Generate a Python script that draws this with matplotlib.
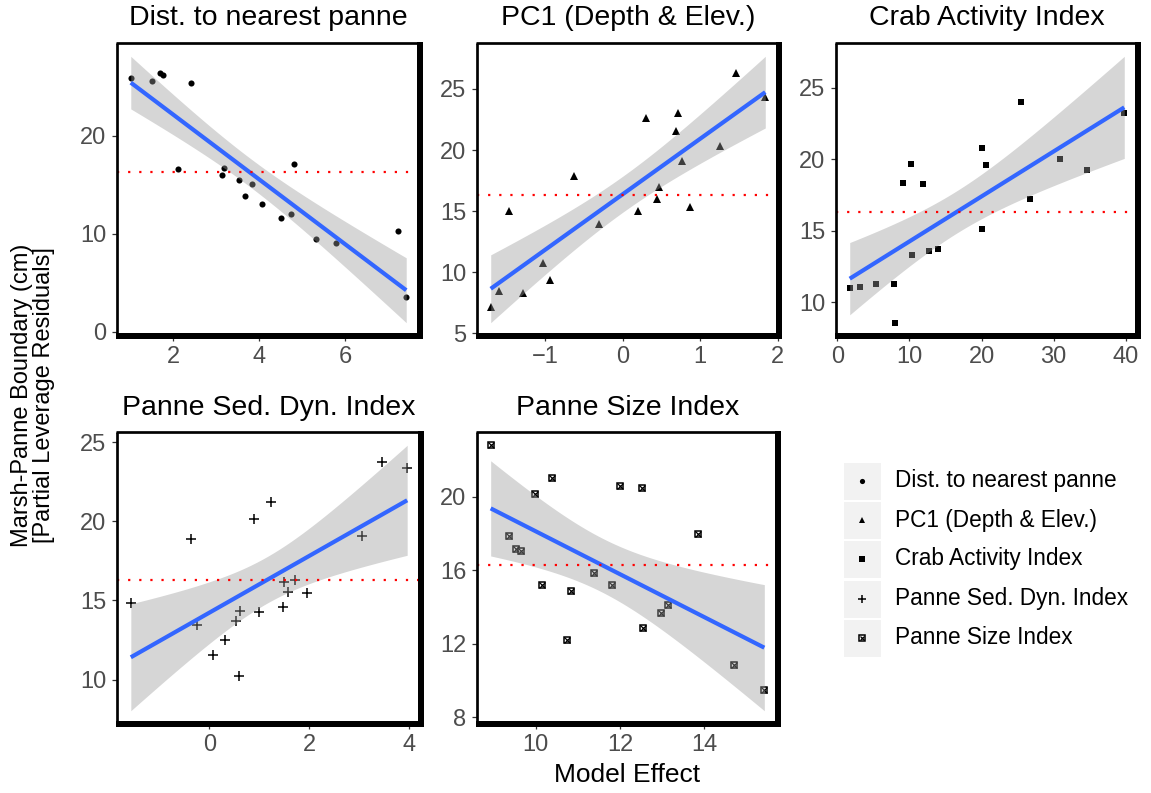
import numpy as np
import matplotlib
matplotlib.use("Agg")
import matplotlib.pyplot as plt
from matplotlib.patches import Rectangle

plt.rcParams['font.family'] = ['Liberation Sans', 'DejaVu Sans']

# partial leverage residuals for each predictor (x = model effect, y = boundary in cm)
dist_x = np.array([1.01, 1.51, 1.68, 1.75, 2.41, 2.12, 3.13, 3.19, 3.53, 3.83,
                   3.66, 4.07, 4.50, 4.75, 4.82, 5.32, 5.78, 7.22, 7.42])
dist_y = np.array([25.93, 25.60, 26.36, 26.23, 25.43, 16.63, 16.02, 16.70, 15.53, 15.05,
                   13.84, 13.00, 11.59, 12.03, 17.14, 9.44, 9.04, 10.29, 3.58])

pc1_x = np.array([-1.70, -1.59, -1.47, -1.28, -1.03, -0.94, -0.62, -0.31, 0.20, 0.30,
                  0.44, 0.47, 0.71, 0.69, 0.77, 0.87, 1.26, 1.46, 1.84])
pc1_y = np.array([7.13, 8.47, 15.00, 8.28, 10.73, 9.34, 17.89, 13.97, 15.03, 22.60,
                  16.03, 16.99, 23.05, 21.56, 19.09, 15.30, 20.31, 26.32, 24.33])

crab_x = np.array([1.71, 3.18, 5.42, 7.85, 8.02, 9.12, 10.18, 10.32, 11.87, 12.69,
                   13.98, 20.01, 20.01, 20.56, 25.54, 26.73, 30.85, 34.69, 39.81])
crab_y = np.array([11.00, 11.11, 11.30, 11.30, 8.59, 18.34, 19.66, 13.34, 18.29, 13.60,
                   13.74, 20.79, 15.10, 19.61, 23.98, 17.22, 20.05, 19.26, 23.25])

sed_x = np.array([-1.58, -0.37, -0.25, 0.07, 0.31, 0.54, 0.62, 0.60, 0.90, 1.00,
                  1.24, 1.47, 1.49, 1.57, 1.71, 1.95, 3.07, 3.46, 3.97])
sed_y = np.array([14.84, 18.88, 13.44, 11.57, 12.49, 13.73, 14.32, 10.23, 20.18, 14.25,
                  21.24, 14.61, 16.16, 15.51, 16.31, 15.45, 19.07, 23.74, 23.36])

size_x = np.array([8.93, 9.37, 9.54, 9.66, 9.99, 10.16, 10.38, 10.75, 10.84, 11.38,
                   11.82, 12.00, 12.53, 12.54, 12.98, 13.14, 13.85, 14.72, 15.43])
size_y = np.array([22.80, 17.84, 17.15, 17.03, 20.15, 15.17, 21.00, 12.17, 14.85, 15.84,
                   15.20, 20.58, 20.49, 12.86, 13.65, 14.09, 17.95, 10.84, 9.49])

titles = ["Dist. to nearest panne", "PC1 (Depth & Elev.)", "Crab Activity Index",
          "Panne Sed. Dyn. Index", "Panne Size Index"]
x_ticks = [[2, 4, 6], [-1, 0, 1, 2], [0, 10, 20, 30, 40], [0, 2, 4], [10, 12, 14]]
y_ticks = [[0, 10, 20], [5, 10, 15, 20, 25], [10, 15, 20, 25], [10, 15, 20, 25], [8, 12, 16, 20]]
mean_boundary = 16.3

T_CRIT = 2.110  # t quantile (0.975, df = 17)

W, H = 1151, 793
fig = plt.figure(figsize=(W / 100, H / 100), dpi=100)


def px_box(left, top, right, bottom):
    return [left / W, 1 - bottom / H, (right - left) / W, (bottom - top) / H]


def lm_band(x, y, n_grid=80):
    slope, icept = np.polyfit(x, y, 1)
    xs = np.linspace(x.min(), x.max(), n_grid)
    fit = icept + slope * xs
    resid = y - (icept + slope * x)
    s = np.sqrt(np.sum(resid ** 2) / (len(x) - 2))
    se = s * np.sqrt(1 / len(x) + (xs - x.mean()) ** 2 / np.sum((x - x.mean()) ** 2))
    return xs, fit, fit - T_CRIT * se, fit + T_CRIT * se


def expand(lo, hi, f=0.05):
    d = hi - lo
    return lo - f * d, hi + f * d


def draw_marker(ax, x, y, kind, scale=1.0):
    if kind == 'circle':
        ax.plot(x, y, 'o', color='black', ms=4.4 * scale, mew=0, zorder=2)
    elif kind == 'triangle':
        ax.plot(x, y, '^', color='black', ms=5.4 * scale, mew=0, zorder=2)
    elif kind == 'square':
        ax.plot(x, y, 's', color='black', ms=4.4 * scale, mew=0, zorder=2)
    elif kind == 'plus':
        ax.plot(x, y, '+', color='black', ms=7.0 * scale, mew=1.1, zorder=2)
    elif kind == 'squarecross':
        ax.plot(x, y, 's', mfc='white', mec='black', ms=4.6 * scale, mew=1.1, zorder=2)
        ax.plot(x, y, 'x', color='black', ms=3.8 * scale, mew=0.9, zorder=2)


panels = [
    (dist_x, dist_y, 'circle', (117, 43, 420, 336)),
    (pc1_x, pc1_y, 'triangle', (477, 43, 779, 336)),
    (crab_x, crab_y, 'square', (836, 43, 1138, 336)),
    (sed_x, sed_y, 'plus', (117, 432, 421, 724)),
    (size_x, size_y, 'squarecross', (477, 432, 778, 724)),
]

for i, (x, y, kind, pbox) in enumerate(panels):
    ax = fig.add_axes(px_box(*pbox))
    xs, fit, lo, hi = lm_band(x, y)

    draw_marker(ax, x, y, kind)
    ax.fill_between(xs, lo, hi, color='#999999', alpha=0.4, lw=0, zorder=3)
    ax.plot(xs, fit, color='#3366FF', lw=3, solid_capstyle='butt', zorder=4)
    ax.axhline(mean_boundary, color='red', lw=1.6, ls=(0, (1, 4)), zorder=5)

    ax.set_xlim(*expand(x.min(), x.max()))
    ax.set_ylim(*expand(min(y.min(), lo.min()), max(y.max(), hi.max())))
    ax.set_xticks(x_ticks[i])
    ax.set_yticks(y_ticks[i])
    ax.tick_params(length=3.5, width=0.9, color='#333333', labelcolor='#4D4D4D',
                   labelsize=17, pad=4)
    for sp in ax.spines.values():
        sp.set_visible(False)

    cx = (pbox[0] + pbox[2]) / 2
    ty = 18 if pbox[1] < 100 else 408
    fig.text(cx / W, 1 - ty / H, titles[i], ha='center', va='center', fontsize=20.5)

# axis titles
fig.text(627 / W, 1 - 775 / H, "Model Effect", ha='center', va='center', fontsize=19)
fig.text(33 / W, 1 - 395 / H, "Marsh-Panne Boundary (cm)\n[Partial Leverage Residuals]",
         rotation=90, ha='center', va='center', multialignment='center',
         fontsize=17, linespacing=1.05)

# overlay in pixel coordinates for panel frames and the legend
lax = fig.add_axes([0, 0, 1, 1])
lax.set_xlim(0, W)
lax.set_ylim(H, 0)
lax.axis('off')

thin, thick = 2.7, 6.0
for _, _, _, (L, T, R, B) in panels:
    lax.plot([L - thin / 2, R], [T, T], color='black', lw=thin * 0.72, solid_capstyle='butt')
    lax.plot([L, L], [T, B], color='black', lw=thin * 0.72, solid_capstyle='butt')
    lax.plot([R, R], [T - thin / 2, B + thick / 2], color='black', lw=thick * 0.72,
             solid_capstyle='butt')
    lax.plot([L - thin / 2, R + thick / 2], [B, B], color='black', lw=thick * 0.72,
             solid_capstyle='butt')

kinds = ['circle', 'triangle', 'square', 'plus', 'squarecross']
row_y = [481, 520, 559, 599, 638]
for kind, label, ry in zip(kinds, titles, row_y):
    lax.add_patch(Rectangle((844, ry - 18.5), 37, 37, color='#F2F2F2', lw=0))
    draw_marker(lax, [862.5], [ry], kind, scale=0.85)
    lax.text(895, ry, label, ha='left', va='center', fontsize=16.3)

fig.savefig("out.png", dpi=100)
